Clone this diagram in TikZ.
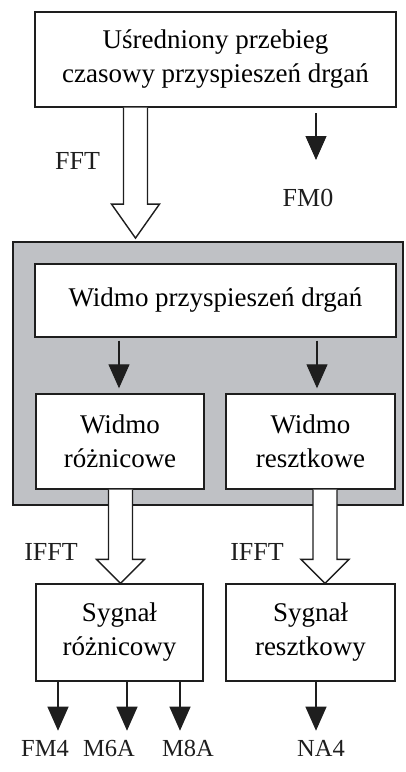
\documentclass[tikz,border=0pt]{standalone}
\usepackage{fontspec}
\setmainfont{Liberation Serif}
\usetikzlibrary{arrows.meta,calc}
\definecolor{panelgray}{RGB}{191,193,197}
\definecolor{ink}{RGB}{30,30,30}
\tikzset{
  box/.style={draw=ink,line width=1.4pt,fill=white,align=center,inner sep=0pt,
    font=\fontsize{27}{34}\selectfont},
  lbl/.style={inner sep=0pt,font=\fontsize{26}{32}\selectfont,text=ink},
  outlbl/.style={lbl,font=\fontsize{24.5}{30}\selectfont},
  thinarr/.style={draw=ink,line width=1.1pt,-{Triangle[length=24pt,width=21pt]}},
  hollow/.style={draw=ink,line width=1.4pt,fill=white,line join=miter}
}
\newcommand\hollowarr[3]{% start, tip, head length
  \draw[hollow] ($(#1)+(-12,0)$) -- ($(#2)+(-12,-#3)$) -- ($(#2)+(-24,-#3)$) -- (#2)
    -- ($(#2)+(24,-#3)$) -- ($(#2)+(12,-#3)$) -- ($(#1)+(12,0)$);}
\begin{document}
\begin{tikzpicture}[x=1pt,y=-1pt]
\useasboundingbox (0,0) rectangle (406,772);
% gray panel
\node[draw=ink,line width=1.8pt,fill=panelgray,minimum width=390pt,minimum height=263pt,inner sep=0pt] (panel) at (208,373.5) {};
% boxes
\node[box,minimum width=361pt,minimum height=95pt] (top) at (215.5,59.5) {Uśredniony przebieg\\czasowy przyspieszeń drgań};
\node[box,minimum width=361pt,minimum height=73pt] (spec) at (215.5,300.5) {Widmo przyspieszeń drgań};
\node[box,minimum width=168pt,minimum height=95pt] (wr) at (120,441.5) {Widmo\\różnicowe};
\node[box,minimum width=169pt,minimum height=95pt] (wz) at (310.5,441.5) {Widmo\\resztkowe};
\node[box,minimum width=167pt,minimum height=97pt] (sr) at (119.5,632.5) {Sygnał\\różnicowy};
\node[box,minimum width=169pt,minimum height=97pt] (sz) at (310.5,632.5) {Sygnał\\resztkowy};
% labels
\node[lbl] (fft) at (77.5,161) {FFT};
\node[lbl] (fm0) at (308,198) {FM0};
\node[lbl] (ifft1) at (51,552) {IFFT};
\node[lbl] (ifft2) at (257,552) {IFFT};
\node[outlbl] (fm4) at (45,748) {FM4};
\node[outlbl] (m6a) at (109,748) {M6A};
\node[outlbl] (m8a) at (188,748) {M8A};
\node[outlbl] (na4) at (321,748) {NA4};
% helper coordinates
\coordinate (xfft) at (135.5,0);
\coordinate (xl) at (120.5,0);
\coordinate (xr) at (325,0);
\coordinate (fm0tip) at (316,160);
\coordinate (fm0start) at (316,113);
% hollow arrows
\hollowarr{xfft |- top.south}{$(xfft |- panel.north)+(0,-3)$}{34}
\hollowarr{xl |- wr.south}{xl |- sr.north}{24}
\hollowarr{xr |- wz.south}{xr |- sz.north}{24}
% thin arrows
\draw[thinarr] (fm0start) -- (fm0tip);
\draw[thinarr] ([yshift=-3pt]spec.south -| 119,0) -- ([yshift=5pt]wr.north -| 119,0);
\draw[thinarr] ([yshift=-3pt]spec.south -| 317,0) -- ([yshift=5pt]wz.north -| 317,0);
\draw[thinarr] (sr.south -| 58,0) -- ($(sr.south -| 58,0)+(0,49)$);
\draw[thinarr] (sr.south -| 127,0) -- ($(sr.south -| 127,0)+(0,49)$);
\draw[thinarr] (sr.south -| 180,0) -- ($(sr.south -| 180,0)+(0,49)$);
\draw[thinarr] (sz.south -| 316,0) -- ($(sz.south -| 316,0)+(0,49)$);
\end{tikzpicture}
\end{document}
